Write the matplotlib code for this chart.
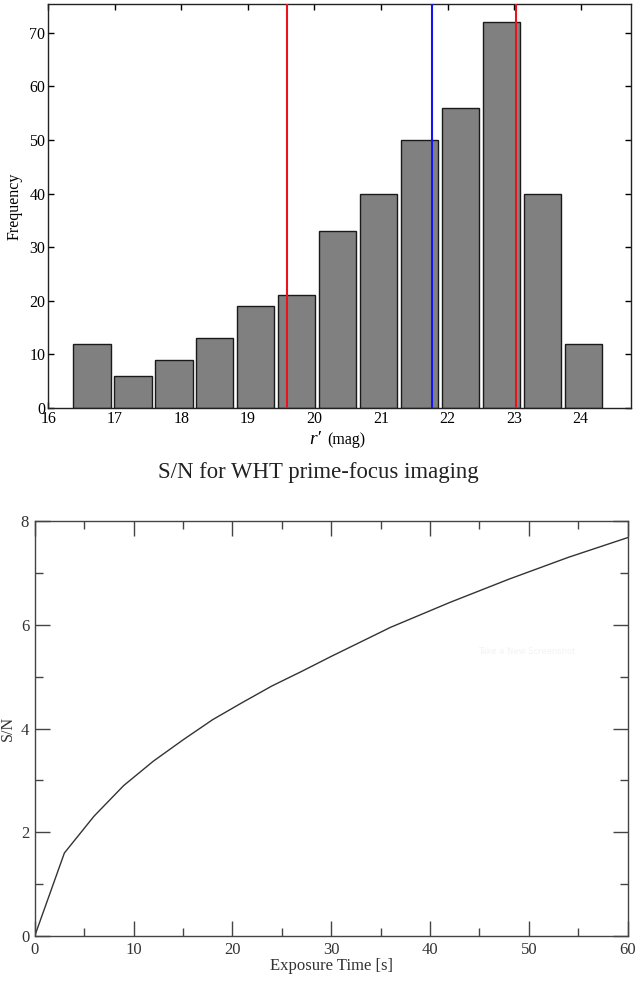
import matplotlib
matplotlib.use("Agg")
import matplotlib.pyplot as plt
import numpy as np
from matplotlib.ticker import MultipleLocator

plt.rcParams['font.family'] = ['Liberation Serif', 'DejaVu Serif']
plt.rcParams['mathtext.fontset'] = 'stix'

# ---- Data: histogram of r' magnitudes ----
bin_start = 16.35
bin_width = 0.615
frequencies = [12, 6, 9, 13, 19, 21, 33, 40, 50, 56, 72, 40, 12]
red_lines = [19.59, 23.03]
blue_lines = [21.76]

# ---- Data: S/N vs exposure time ----
exposure_time = [0, 3, 6, 9, 12, 15, 18, 21, 24, 27, 30, 36, 42, 48, 54, 60]
signal_to_noise = [0, 1.6, 2.31, 2.9, 3.37, 3.78, 4.17, 4.5, 4.82, 5.1, 5.39,
                   5.95, 6.43, 6.88, 7.3, 7.68]

fig = plt.figure(figsize=(6.36, 9.83), dpi=100)

# ---------------- Top panel ----------------
ax1 = fig.add_axes([0.0759, 0.585, 0.9162, 0.411])
edges = bin_start + bin_width * np.arange(len(frequencies) + 1)
centers = (edges[:-1] + edges[1:]) / 2
ax1.bar(centers, frequencies, width=bin_width * 0.91, color='#808080',
        edgecolor='#1a1a1a', linewidth=1.0, zorder=2)
for x in red_lines:
    ax1.axvline(x, color='#e8141c', linewidth=1.5, zorder=3)
for x in blue_lines:
    ax1.axvline(x, color='#1414f0', linewidth=1.5, zorder=3)
ax1.set_xlim(16, 24.755)
ax1.set_ylim(0, 75.4)
ax1.set_xticks(range(16, 25))
ax1.set_yticks(range(0, 71, 10))
ax1.tick_params(direction='in', length=4, width=1, top=True, right=True,
                labelsize=11.5, colors='black', pad=2)
for s in ax1.spines.values():
    s.set_linewidth(1.0)
    s.set_color('#222222')
ax1.set_ylabel('Frequency', fontsize=11.5)
ax1.yaxis.set_label_coords(-0.044, 0.5)
ax1.text(0.469, -0.079, "r′", transform=ax1.transAxes, ha='right',
         va='center', fontsize=14, fontstyle='italic')
ax1.text(0.4786, -0.079, "(mag)", transform=ax1.transAxes, ha='left',
         va='center', fontsize=11.5)

# ---------------- Title ----------------
fig.text(0.5, 0.5198, 'S/N for WHT prime-focus imaging', ha='center',
         va='center', fontsize=16.4, color='#222222')

# ---------------- Bottom panel ----------------
ax2 = fig.add_axes([0.0546, 0.0478, 0.9324, 0.4222])
ax2.plot(exposure_time, signal_to_noise, color='#333333', linewidth=1.0)
ax2.set_xlim(0, 60)
ax2.set_ylim(0, 8)
ax2.xaxis.set_major_locator(MultipleLocator(10))
ax2.xaxis.set_minor_locator(MultipleLocator(5))
ax2.yaxis.set_major_locator(MultipleLocator(2))
ax2.yaxis.set_minor_locator(MultipleLocator(1))
ax2.tick_params(which='major', direction='in', length=11, width=1,
                top=True, right=True, labelsize=12, colors='#444444',
                labelcolor='#333333', pad=4)
ax2.tick_params(which='minor', direction='in', length=6, width=1,
                top=True, right=True, colors='#444444')
for s in ax2.spines.values():
    s.set_linewidth(1.0)
    s.set_color('#444444')
ax2.set_ylabel('S/N', fontsize=11.5, color='#333333')
ax2.yaxis.set_label_coords(-0.032, 0.5)
ax2.set_xlabel('Exposure Time [s]', fontsize=12, color='#333333',
               labelpad=0)
ax2.text(0.83, 0.685, 'Take a New Screenshot', transform=ax2.transAxes,
         ha='center', va='center', fontsize=6, color='#f3f3f3',
         family='DejaVu Sans')

fig.savefig('out.png', dpi=100)
